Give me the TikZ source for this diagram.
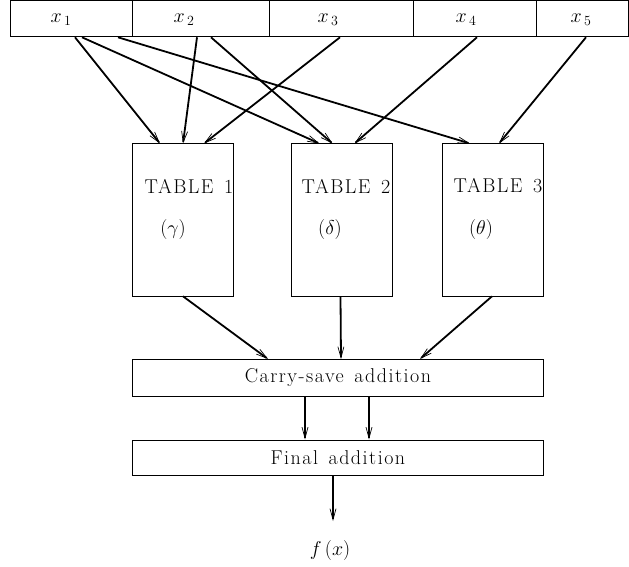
\RequirePackage{fix-cm}
\documentclass[tikz,border=0pt]{standalone}
\usepackage{fontspec}
\setmainfont{Latin Modern Roman}[LetterSpace=7.5,WordSpace=1.4]
\usetikzlibrary{arrows.meta,positioning}
\newcommand{\lbl}{\fontsize{20}{24}\selectfont}
\tikzset{
  cell/.style={draw,line width=0.8pt,minimum height=36pt,inner sep=0pt,anchor=north west},
  tab/.style={draw,line width=0.8pt,minimum width=101pt,minimum height=152pt,inner sep=0pt,anchor=north west},
  wide/.style={draw,line width=0.8pt,minimum width=411pt,inner sep=0pt,anchor=north west,font=\lbl},
  feed/.style={->,line width=1.8pt}
}

\begin{document}
\begin{tikzpicture}[x=1pt,y=-1pt,>={Straight Barb[length=11pt,width=6pt,line width=0.7pt]}]
  \useasboundingbox (0,0) rectangle (629,567);
  % input word
  \node[cell,minimum width=122pt] (c1) at (10,0.5) {};
  \node[cell,minimum width=137pt] (c2) at (132,0.5) {};
  \node[cell,minimum width=144pt] (c3) at (269,0.5) {};
  \node[cell,minimum width=123pt] (c4) at (413,0.5) {};
  \node[cell,minimum width=92pt] (c5) at (536,0.5) {};
  \node[font=\lbl] (l1) at (61,20) {$x_{\,1}$};
  \node[font=\lbl] (l2) at (184,20) {$x_{\,2}$};
  \node[font=\lbl] (l3) at (328,20) {$x_{\,3}$};
  \node[font=\lbl] (l4) at (466,20) {$x_{\,4}$};
  \node[font=\lbl] (l5) at (581,20) {$x_{\,5}$};
  % tables
  \node[tab] (t1) at (132,143.5) {};
  \node[tab] (t2) at (290.5,143.5) {};
  \node[tab] (t3) at (442,143.5) {};
  \node[font=\lbl] (n1) at (189,186) {TABLE 1};
  \node[font=\lbl] (n2) at (346,186) {TABLE 2};
  \node[font=\lbl] (n3) at (498,186) {TABLE 3};
  \node[font=\lbl] (g1) at (173,229) {$(\gamma)$};
  \node[font=\lbl] (g2) at (330,229) {$(\delta)$};
  \node[font=\lbl] (g3) at (481,229) {$(\theta)$};
  % adders
  \node[wide,minimum height=37pt] (csa) at (132,359) {Carry-save addition};
  \node[wide,minimum height=35pt] (fin) at (132,439.5) {Final addition};
  \node[font=\lbl] (fx) at (330,550) {$f\,(x)$};
  \coordinate (out) at (333,521);
  % inputs to tables
  \draw[feed] ([xshift=65pt]c1.south west) -- ([xshift=28pt]t1.north west);
  \draw[feed] ([xshift=72pt]c1.south west) -- ([xshift=29pt]t2.north west);
  \draw[feed] ([xshift=108pt]c1.south west) -- ([xshift=28pt]t3.north west);
  \draw[feed] ([xshift=65pt]c2.south west) -- ([xshift=51pt]t1.north west);
  \draw[feed] ([xshift=79pt]c2.south west) -- ([xshift=42pt]t2.north west);
  \draw[feed] ([xshift=71pt]c3.south west) -- ([xshift=72pt]t1.north west);
  \draw[feed] ([xshift=64pt]c4.south west) -- ([xshift=64pt]t2.north west);
  \draw[feed] ([xshift=50pt]c5.south west) -- ([xshift=57pt]t3.north west);
  % tables to adders
  \draw[feed] ([xshift=51pt]t1.south west) -- ([xshift=136pt]csa.north west);
  \draw[feed] ([xshift=50pt]t2.south west) -- ([xshift=209pt]csa.north west);
  \draw[feed] ([xshift=50pt]t3.south west) -- ([xshift=288pt]csa.north west);
  \draw[feed] ([xshift=173pt]csa.south west) -- ([xshift=173pt]fin.north west);
  \draw[feed] ([xshift=237pt]csa.south west) -- ([xshift=237pt]fin.north west);
  \draw[feed] ([xshift=201pt]fin.south west) -- (out);
\end{tikzpicture}
\end{document}
